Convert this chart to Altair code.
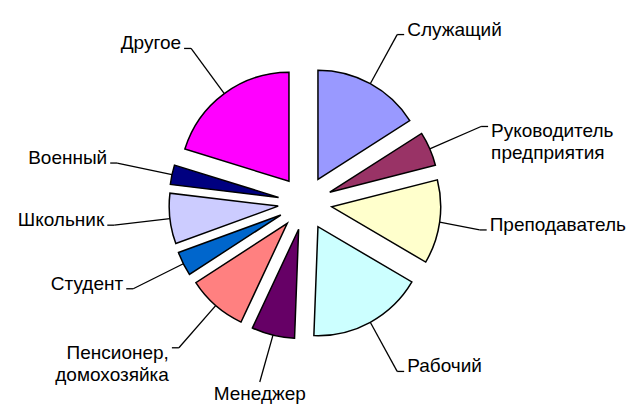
import altair as alt
import pandas as pd

categories = ["Служащий", "Руководитель\nпредприятия", "Преподаватель", "Рабочий",
              "Менеджер", "Пенсионер,\nдомохозяйка", "Студент", "Школьник",
              "Военный", "Другое"]
values = [16.0, 5.1, 12.5, 17.2, 6.4, 8.9, 3.6, 7.5, 2.9, 20.3]
colors = ["#9999FF", "#993366", "#FFFFCC", "#CCFFFF", "#660066",
          "#FF8080", "#0066CC", "#CCCCFF", "#000080", "#FF00FF"]

df = pd.DataFrame({"cat": categories, "value": values,
                   "order": list(range(len(categories)))})

W, H = 622, 397
CX, CY = 297, 195      # pie centre (pixels in plot area)
EXPLODE = 27           # radial offset of each slice
R = 109                # slice radius
RL = 192               # label anchor radius
FONT = "Liberation Sans"
FS = 19
CHARW = 0.56 * FS      # approx. average glyph width for label fitting

base = (
    alt.Chart(df)
    .transform_joinaggregate(total="sum(value)")
    .transform_window(cum="sum(value)", sort=[alt.SortField("order", order="ascending")],
                      frame=[None, 0])
    .transform_calculate(a1="datum.cum / datum.total * 2 * PI")
    .transform_calculate(a0="(datum.cum - datum.value) / datum.total * 2 * PI")
    .transform_calculate(mid="(datum.a0 + datum.a1) / 2")
    .transform_calculate(s="sin(datum.mid)")
    .transform_calculate(c="cos(datum.mid)")
    .transform_calculate(lines="split(datum.cat, '\\n')")
    .transform_calculate(nlines="length(datum.lines)")
    .transform_calculate(tw=f"{CHARW} * max(length(datum.lines[0]), length(peek(datum.lines)))")
    .transform_calculate(cx=f"{CX} + {EXPLODE} * datum.s")
    .transform_calculate(cy=f"{CY} - {EXPLODE} * datum.c")
    .transform_calculate(sx=f"{CX} + {R + EXPLODE} * datum.s")
    .transform_calculate(sy=f"{CY} - {R + EXPLODE} * datum.c")
    .transform_calculate(side="datum.s > 0.3 ? 1 : (datum.s < -0.3 ? -1 : 0)")
    .transform_calculate(lx0=f"{CX} + {RL} * datum.s")
    .transform_calculate(
        lx=f"datum.side == 1 ? min(datum.lx0, {W} - 12 - datum.tw) : "
           f"(datum.side == -1 ? max(datum.lx0, 12 + datum.tw) : datum.lx0)")
    .transform_calculate(ly0=f"{CY} - {RL} * datum.c")
    .transform_calculate(
        ly=f"datum.side == 0 ? min(datum.ly0, {H} - {FS} - 4) : "
           f"max(min(datum.ly0, {H} - 14), 14)")
    .transform_calculate(tx="datum.lx + 7 * datum.side")
    .transform_calculate(textx="datum.lx + 10 * datum.side")
    .transform_calculate(
        texty="datum.side == 0 ? datum.ly + 3 : "
              "(datum.nlines > 1 ? datum.ly + 5 : datum.ly - 5)")
)

arcs = base.mark_arc(outerRadius=R, stroke="black", strokeWidth=1.5).encode(
    theta=alt.Theta("a0:Q", scale=None),
    theta2="a1:Q",
    x=alt.X("cx:Q", scale=None, axis=None),
    y=alt.Y("cy:Q", scale=None, axis=None),
    color=alt.Color("cat:N", scale=alt.Scale(domain=categories, range=colors), legend=None),
)

leaders = base.mark_rule(color="black", strokeWidth=1.3).encode(
    x=alt.X("sx:Q", scale=None, axis=None),
    y=alt.Y("sy:Q", scale=None, axis=None),
    x2="lx:Q",
    y2="ly:Q",
)

ticks = base.transform_filter("datum.side != 0").mark_rule(color="black", strokeWidth=1.3).encode(
    x=alt.X("lx:Q", scale=None, axis=None),
    y=alt.Y("ly:Q", scale=None, axis=None),
    x2="tx:Q",
    y2="ly:Q",
)

def label_layer(cond, align, baseline):
    return base.transform_filter(cond).mark_text(
        align=align, baseline=baseline, font=FONT, fontSize=FS,
        color="black", lineBreak="\n", lineHeight=22
    ).encode(
        x=alt.X("textx:Q", scale=None, axis=None),
        y=alt.Y("texty:Q", scale=None, axis=None),
        text="cat:N",
    )

labels_r = label_layer("datum.side == 1", "left", "middle")
labels_l = label_layer("datum.side == -1", "right", "middle")
labels_c = label_layer("datum.side == 0", "center", "top")

chart = (
    alt.layer(arcs, leaders, ticks, labels_r, labels_l, labels_c)
    .properties(width=W, height=H, padding=0, autosize="none")
    .configure_view(strokeWidth=0)
)

chart.save("out.html", embed_options={"renderer": "svg", "actions": False})
